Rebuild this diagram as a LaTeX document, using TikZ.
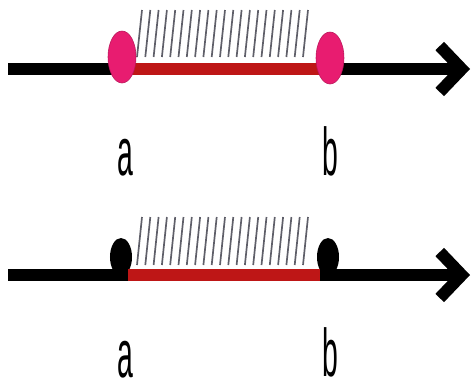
\documentclass[tikz,border=0pt]{standalone}
\usepackage{fontspec}
\setmainfont{Liberation Sans}
\usetikzlibrary{arrows.meta, shapes.geometric}
\definecolor{dotpink}{RGB}{232,28,112}
\definecolor{segred}{RGB}{190,22,22}
\definecolor{hatchgray}{RGB}{95,95,105}

\begin{document}
\begin{tikzpicture}[x=0.025cm, y=-0.025cm,
    axis/.style={line width=8.5pt, -{Straight Barb[length=0.55cm, width=1.15cm]}},
    seg/.style={line width=8.5pt, segred},
    hatch/.style={hatchgray, line width=1.2pt},
    opendot/.style={ellipse, fill=dotpink, draw=dotpink!80!black, minimum width=0.7cm, minimum height=1.3cm, inner sep=0pt},
    fulldot/.style={ellipse, fill=black, minimum width=0.55cm, minimum height=0.95cm, inner sep=0pt},
    ptlabel/.style={font=\fontsize{48}{48}\selectfont, inner sep=0pt, anchor=base}]
    \useasboundingbox (0,0) rectangle (473,390);
    % upper line
    \coordinate (s1) at (8,69);
    \coordinate (e1) at (470,69);
    \coordinate (a1) at (124,69);
    \coordinate (b1) at (330,69);
    \draw[axis] (s1) -- (e1);
    \draw[seg] (a1) -- (b1);
    \foreach \i in {0,...,20}
        \draw[hatch] ({137+\i*8.3},57) -- ({142+\i*8.3},10);
    \node[opendot] (A1) at (122,57) {};
    \node[opendot] (B1) at (330,58) {};
    \node[ptlabel] (la1) at (125,175) {\scalebox{0.42}[1]{a}};
    \node[ptlabel] (lb1) at (330,175) {\scalebox{0.42}[1]{b}};
    % lower line
    \coordinate (s2) at (8,275);
    \coordinate (e2) at (470,275);
    \coordinate (a2) at (128,275);
    \coordinate (b2) at (320,275);
    \draw[axis] (s2) -- (e2);
    \node[fulldot] (A2) at (121,257) {};
    \node[fulldot] (B2) at (328,257) {};
    \draw[seg] (a2) -- (b2);
    \foreach \i in {0,...,20}
        \draw[hatch] ({137+\i*8.3},265) -- ({142+\i*8.3},217);
    \node[ptlabel] (la2) at (125,377) {\scalebox{0.42}[1]{a}};
    \node[ptlabel] (lb2) at (330,376) {\scalebox{0.42}[1]{b}};
\end{tikzpicture}
\end{document}
